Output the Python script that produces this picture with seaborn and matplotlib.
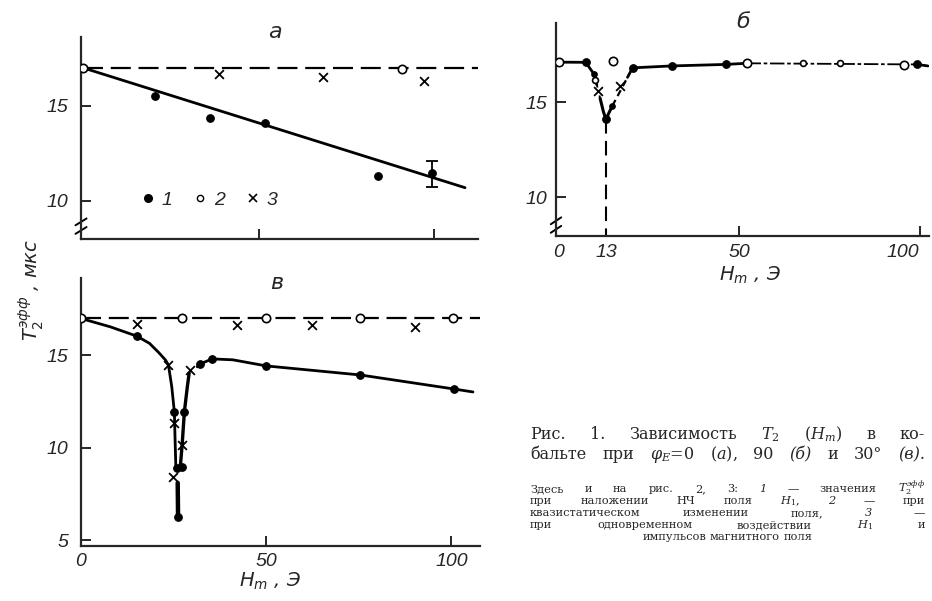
import matplotlib
matplotlib.use("Agg")
import matplotlib.pyplot as plt
import seaborn as sns
from matplotlib.lines import Line2D
from matplotlib.transforms import blended_transform_factory

sns.set_style("ticks")
plt.rcParams['font.family'] = ['DejaVu Sans']
plt.rcParams['mathtext.fontset'] = 'dejavusans'
TICKFONT = ['Liberation Sans', 'DejaVu Sans']

# ---------------- data: panel a (phi_E = 0) ----------------
a_fill_x = [20.4, 36.0, 51.7, 83.9, 99.3]
a_fill_y = [15.5, 14.37, 14.1, 11.3, 11.45]
a_err_x = [99.3]
a_err_y = [11.45]
a_err_lo = [0.70]
a_err_hi = [0.65]
a_open_x = [0.0, 90.7]
a_open_y = [17.0, 16.95]
a_cross_x = [38.6, 68.2, 97.0]
a_cross_y = [16.7, 16.5, 16.3]
a_fit_x = [0.0, 108.7]
a_fit_y = [17.0, 10.7]
a_ref_x = [0.0, 112.4]
a_ref_y = [17.0, 17.0]

# ---------------- data: panel б (phi_E = 90) ----------------
b_fill_x = [7.4, 13.0, 20.4, 31.2, 46.3, 99.2]
b_fill_y = [17.09, 14.1, 16.8, 16.9, 16.98, 16.98]
b_sfill_x = [9.7, 14.8]
b_sfill_y = [16.47, 14.8]
b_open_x = [0.0, 14.9, 52.0, 95.6]
b_open_y = [17.1, 17.16, 17.04, 16.95]
b_sopen_x = [10.1, 67.7, 77.9]
b_sopen_y = [16.15, 17.04, 17.04]
b_cross_x = [10.9, 16.8]
b_cross_y = [15.6, 15.86]
b_seg1_x, b_seg1_y = [0.0, 7.4, 9.7, 10.5], [17.1, 17.09, 16.47, 15.9]
b_seg2_x, b_seg2_y = [10.5, 11.4], [15.9, 15.2]
b_seg3_x, b_seg3_y = [11.4, 12.3, 13.0, 14.8], [15.2, 14.5, 14.1, 14.8]
b_seg4_x, b_seg4_y = [14.8, 19.0], [14.8, 16.3]
b_seg5_x, b_seg5_y = [19.0, 20.4, 31.2, 46.3, 52.0], [16.3, 16.8, 16.9, 16.98, 17.04]
b_seg6_x, b_seg6_y = [52.0, 99.2], [17.04, 16.98]
b_seg7_x, b_seg7_y = [99.2, 102.3], [16.98, 16.9]
b_vline_x, b_vline_y = [13.0, 13.0], [14.1, 7.95]

# ---------------- data: panel в (phi_E = 30) ----------------
v_fill_x = [15.1, 25.2, 26.0, 26.3, 27.3, 27.9, 32.2, 35.4, 50.0, 75.4, 100.7]
v_fill_y = [16.04, 11.94, 8.91, 6.25, 8.96, 11.94, 14.54, 14.81, 14.43, 13.94, 13.18]
v_open_x = [0.0, 27.3, 50.0, 75.4, 100.4]
v_open_y = [17.0, 17.0, 17.0, 17.0, 17.0]
v_cross_x = [15.1, 42.2, 62.4, 90.2, 23.6, 25.2, 24.9, 27.3, 29.5]
v_cross_y = [16.70, 16.65, 16.63, 16.56, 14.48, 11.34, 8.42, 10.15, 14.21]
v_left_x = [0.0, 8.0, 15.1, 18.5, 21.0, 22.8, 23.6, 24.5, 25.2, 25.4, 25.6]
v_left_y = [17.0, 16.54, 16.04, 15.65, 15.15, 14.75, 14.48, 13.3, 11.94, 10.4, 8.96]
v_drop_x = [26.1, 26.2]
v_drop_y = [8.1, 6.25]
v_rise_x = [26.8, 27.3, 27.9, 28.7, 29.2]
v_rise_y = [8.96, 10.15, 11.94, 13.3, 14.05]
v_right_x = [31.4, 32.2, 35.4, 41.0, 50.0, 75.4, 100.7, 105.8]
v_right_y = [14.38, 14.54, 14.81, 14.76, 14.43, 13.94, 13.18, 13.02]
v_ref_x = [0.0, 107.7]
v_ref_y = [17.0, 17.0]

W, H = 932, 601
fig = plt.figure(figsize=(W / 100, H / 100), dpi=100)


def px_axes(l, t, r, b):
    ax = fig.add_axes([l / W, 1 - b / H, (r - l) / W, (b - t) / H])
    ax.patch.set_alpha(0)
    return ax


DASH = (0, (9, 3.5))


def line(ax, x, y, lw=1.9, ls='-'):
    sns.lineplot(x=x, y=y, ax=ax, color='black', linewidth=lw, linestyle=ls,
                 sort=False, estimator=None)


def pts(ax, x, y, kind, s=None):
    if kind == 'fill':
        sns.scatterplot(x=x, y=y, ax=ax, color='black', edgecolor='black',
                        s=s or 30, linewidth=0.8, zorder=5)
    elif kind == 'open':
        sns.scatterplot(x=x, y=y, ax=ax, color='white', edgecolor='black',
                        s=s or 36, linewidth=1.2, zorder=5)
    else:
        sns.scatterplot(x=x, y=y, ax=ax, color='black', marker='x',
                        s=s or 40, linewidth=1.3, zorder=5)


def style(ax, xlim, ylim, xticks, xlabels, yticks, ylabels, ypad, xpad):
    ax.set_xlim(xlim)
    ax.set_ylim(ylim)
    sns.despine(ax=ax)
    for sp in ('left', 'bottom'):
        ax.spines[sp].set_linewidth(1.6)
    ax.set_xticks(xticks)
    ax.set_xticklabels(xlabels)
    ax.set_yticks(yticks)
    ax.set_yticklabels(ylabels)
    ax.tick_params(direction='in', length=7, width=1.4, labelsize=14)
    ax.tick_params(axis='y', pad=ypad)
    ax.tick_params(axis='x', pad=xpad)
    for lab in ax.get_xticklabels() + ax.get_yticklabels():
        lab.set_fontstyle('italic')
        lab.set_family(TICKFONT)
    ax.set_xlabel('')
    ax.set_ylabel('')


def brk(ax, ys):
    tr = blended_transform_factory(ax.transAxes, ax.transData)
    for y0 in ys:
        ax.plot([-0.014, 0.014], [y0 - 0.18, y0 + 0.18], color='black',
                lw=1.4, transform=tr, clip_on=False)


# ---------- panel a ----------
axA = px_axes(81, 37, 478, 239)
line(axA, a_ref_x, a_ref_y, lw=1.6, ls=DASH)
line(axA, a_fit_x, a_fit_y, lw=2.0)
axA.errorbar(a_err_x, a_err_y, yerr=[a_err_lo, a_err_hi], fmt='none',
             ecolor='black', elinewidth=1.3, capsize=4.5, capthick=1.3)
pts(axA, a_fill_x, a_fill_y, 'fill')
pts(axA, a_open_x, a_open_y, 'open')
pts(axA, a_cross_x, a_cross_y, 'cross')
style(axA, (-0.71, 112.4), (8.0, 18.63), [50, 100], ['', ''],
      [10, 15], ['10', '15'], 9, 5)
brk(axA, [8.9, 8.45])
handles = [Line2D([], [], ls='none', marker='o', ms=5.5, mfc='black', mec='black'),
           Line2D([], [], ls='none', marker='o', ms=4.5, mfc='white', mec='black', mew=1.0),
           Line2D([], [], ls='none', marker='x', ms=5.5, mec='black', mew=1.2)]
leg = axA.legend(handles, ['1', '2', '3'], ncol=3, frameon=False,
                 loc='center left', bbox_to_anchor=(141 / W, 1 - 200 / H),
                 bbox_transform=fig.transFigure, borderpad=0, borderaxespad=0,
                 handlelength=0.7, handletextpad=0.35, columnspacing=1.1,
                 prop={'family': TICKFONT, 'style': 'italic', 'size': 14})
fig.text(275 / W, 1 - 32 / H, 'a', fontsize=16, style='italic', ha='center', va='center')

# ---------- panel б ----------
axB = px_axes(556, 23, 929, 236)
line(axB, b_vline_x, b_vline_y, lw=1.5, ls=(0, (7, 3.5)))
line(axB, b_seg1_x, b_seg1_y, lw=2.0)
line(axB, b_seg2_x, b_seg2_y, lw=1.3, ls=(0, (1.5, 1.5)))
line(axB, b_seg3_x, b_seg3_y, lw=2.2)
line(axB, b_seg4_x, b_seg4_y, lw=1.6, ls=(0, (3, 2)))
line(axB, b_seg5_x, b_seg5_y, lw=2.0)
line(axB, b_seg6_x, b_seg6_y, lw=1.3, ls=(0, (8, 1.5, 2, 1.5)))
line(axB, b_seg7_x, b_seg7_y, lw=2.0)
pts(axB, b_fill_x, b_fill_y, 'fill')
pts(axB, b_sfill_x, b_sfill_y, 'fill', s=16)
pts(axB, b_open_x, b_open_y, 'open')
pts(axB, b_sopen_x, b_sopen_y, 'open', s=18)
pts(axB, b_cross_x, b_cross_y, 'cross')
style(axB, (-0.83, 102.6), (7.95, 19.16), [0, 13, 50, 100], ['0', '13', '50', '100'],
      [10, 15], ['10', '15'], 6, 6)
for i in (0, 1):
    axB.xaxis.get_major_ticks()[i].tick1line.set_visible(False)
axB.get_xticklabels()[3].set_horizontalalignment('right')
axB.get_xticklabels()[3].set_x(103.5)
brk(axB, [8.75, 8.3])
fig.text(743 / W, 1 - 22 / H, 'б', fontsize=16, style='italic', ha='center', va='center')
fig.text(750 / W, 1 - 281 / H, r'$H_m$ , Э', fontsize=14, style='italic',
         ha='center', va='baseline')

# ---------- panel в ----------
axV = px_axes(81, 278, 480, 546)
line(axV, v_ref_x, v_ref_y, lw=1.6, ls=DASH)
line(axV, v_left_x, v_left_y, lw=2.0)
line(axV, v_drop_x, v_drop_y, lw=3.2)
line(axV, v_rise_x, v_rise_y, lw=2.4)
line(axV, v_right_x, v_right_y, lw=2.0)
pts(axV, v_fill_x, v_fill_y, 'fill')
pts(axV, v_open_x, v_open_y, 'open')
pts(axV, v_cross_x, v_cross_y, 'cross')
style(axV, (0.0, 107.7), (4.68, 19.19), [0, 50, 100], ['0', '50', '100'],
      [5, 10, 15], ['5', '10', '15'], 9, 5)
fig.text(277 / W, 1 - 283 / H, 'в', fontsize=16, style='italic', ha='center', va='center')
fig.text(270 / W, 1 - 587 / H, r'$H_m$ , Э', fontsize=14, style='italic',
         ha='center', va='baseline')

# shared y label
fig.text(31 / W, 1 - 290 / H, r'$T_2^{эфф}$ , мкс', fontsize=14, style='italic',
         rotation=90, ha='center', va='center')

# ---------- caption ----------
fig.canvas.draw()
renderer = fig.canvas.get_renderer()


def justify(words, x0, x1, ybase, size, center=False):
    arts = []
    for w in words:
        st = 'normal'
        if isinstance(w, tuple):
            w, st = w
        arts.append(fig.text(0, 1 - ybase / H, w, fontsize=size, family='DejaVu Serif',
                             style=st, va='baseline', math_fontfamily='dejavuserif'))
    widths = [a.get_window_extent(renderer).width for a in arts]
    if center or len(words) == 1:
        gap = size * 0.45
        x = (x0 + x1) / 2 - (sum(widths) + gap * (len(words) - 1)) / 2
    else:
        gap = (x1 - x0 - sum(widths)) / (len(words) - 1)
        x = x0
    for a, w in zip(arts, widths):
        a.set_x(x / W)
        x += w + gap


X0, X1 = 530, 925
justify(['Рис.', '1.', 'Зависимость', r'$T_2$', r'($H_m$)', 'в', 'ко-'], X0, X1, 439, 11.5)
justify(['бальте', 'при', r'$\varphi_E$=0', r'($a$),', '90', ('(б)', 'italic'), 'и', '30°',
         ('(в).', 'italic')], X0, X1, 459, 11.5)
SM = 8.2
justify(['Здесь', 'и', 'на', 'рис.', '2,', '3:', ('1', 'italic'), '—', 'значения',
         r'$T_2^{эфф}$'], X0, X1, 492, SM)
justify(['при', 'наложении', 'НЧ', 'поля', r'$H_1$,', ('2', 'italic'), '—', 'при'],
        X0, X1, 504, SM)
justify(['квазистатическом', 'изменении', 'поля,', ('3', 'italic'), '—'], X0, X1, 516, SM)
justify(['при', 'одновременном', 'воздействии', r'$H_1$', 'и'], X0, X1, 528, SM)
justify(['импульсов', 'магнитного', 'поля'], X0, X1, 540, SM, center=True)

fig.savefig('out.png', dpi=100)
